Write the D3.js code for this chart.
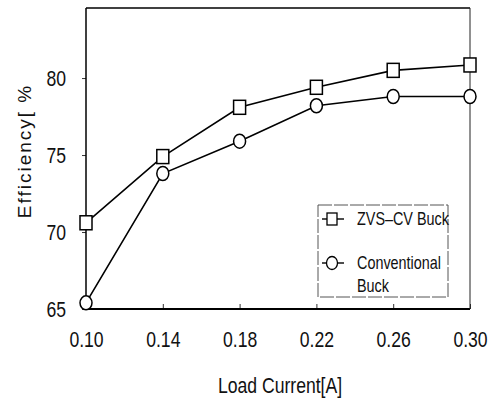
<!DOCTYPE html>
<html lang="en">
<head>
    <meta charset="UTF-8">
    <title>Efficiency vs Load Current</title>
    <script src="https://d3js.org/d3.v7.min.js"></script>
    <style>
        body { margin: 0; background: #fff; }
        text { font-family: "Liberation Sans", Arial, sans-serif; fill: #111; }
    </style>
</head>
<body>
    <div id="chart"></div>

    <script>
        // data
        const loadCurrent = [0.10, 0.14, 0.18, 0.22, 0.26, 0.30];
        const zvsBuck = [70.6, 74.9, 78.1, 79.4, 80.5, 80.85];
        const convBuck = [65.4, 73.8, 75.9, 78.2, 78.8, 78.8];
        const xTicks = [0.10, 0.14, 0.18, 0.22, 0.26, 0.30];
        const yTicks = [65, 70, 75, 80];

        const W = 495, H = 402;
        const margin = { top: 8, right: 25, bottom: 93, left: 86 };
        const width = W - margin.left - margin.right;
        const height = H - margin.top - margin.bottom;
        const narrow = 0.8; // fake a condensed face

        const svg = d3.select("#chart")
            .append("svg")
            .attr("width", W)
            .attr("height", H);

        const g = svg.append("g")
            .attr("transform", `translate(${margin.left},${margin.top})`);

        const x = d3.scaleLinear().domain([0.10, 0.30]).range([0, width]);
        const y = d3.scaleLinear().domain([65, 84.55]).range([height, 0]);

        // axes
        const xAxis = g.append("g")
            .attr("transform", `translate(0,${height})`)
            .call(d3.axisBottom(x).tickValues(xTicks).tickFormat(d3.format(".2f")).tickSizeInner(-5).tickSizeOuter(0).tickPadding(22));
        xAxis.select(".domain").remove();
        xAxis.selectAll("text").attr("font-size", 22).attr("transform", `scale(${narrow},1)`);
        xAxis.selectAll("line").attr("stroke", "#333");

        const yAxis = g.append("g")
            .call(d3.axisLeft(y).tickValues(yTicks).tickSizeInner(4).tickSizeOuter(0).tickPadding(16));
        yAxis.select(".domain").remove();
        yAxis.selectAll("text")
            .attr("font-size", 22)
            .attr("dy", "0.35em")
            .attr("x", -20 / narrow)
            .attr("transform", `scale(${narrow},1)`);
        yAxis.selectAll("line").attr("stroke", "#333");

        // frame
        g.append("line").attr("x1", 0).attr("x2", width).attr("y1", height).attr("y2", height)
            .attr("stroke", "#000").attr("stroke-width", 2);
        g.append("line").attr("x1", 0).attr("x2", 0).attr("y1", 0).attr("y2", height)
            .attr("stroke", "#000").attr("stroke-width", 1.5);
        g.append("line").attr("x1", 0).attr("x2", width).attr("y1", 0).attr("y2", 0)
            .attr("stroke", "#000").attr("stroke-width", 1.5);
        g.append("line").attr("x1", width).attr("x2", width).attr("y1", 0).attr("y2", height)
            .attr("stroke", "#222").attr("stroke-width", 1);

        // series
        const line = d3.line()
            .x((d, i) => x(loadCurrent[i]))
            .y(d => y(d));

        [zvsBuck, convBuck].forEach(s => {
            g.append("path")
                .datum(s)
                .attr("fill", "none")
                .attr("stroke", "#000")
                .attr("stroke-width", 1.6)
                .attr("d", line);
        });

        g.selectAll("rect.zvs")
            .data(zvsBuck)
            .enter()
            .append("rect")
            .attr("class", "zvs")
            .attr("x", (d, i) => x(loadCurrent[i]) - 6)
            .attr("y", d => y(d) - 7)
            .attr("width", 12)
            .attr("height", 14)
            .attr("fill", "#fff")
            .attr("stroke", "#000")
            .attr("stroke-width", 1.5);

        g.selectAll("ellipse.conv")
            .data(convBuck)
            .enter()
            .append("ellipse")
            .attr("class", "conv")
            .attr("cx", (d, i) => x(loadCurrent[i]))
            .attr("cy", d => y(d))
            .attr("rx", 6)
            .attr("ry", 7)
            .attr("fill", "#fff")
            .attr("stroke", "#000")
            .attr("stroke-width", 1.5);

        // legend
        const legend = svg.append("g");
        legend.append("rect")
            .attr("x", 318).attr("y", 205)
            .attr("width", 130).attr("height", 92)
            .attr("fill", "#fff")
            .attr("stroke", "#555")
            .attr("stroke-width", 1)
            .attr("stroke-dasharray", "14,2");

        const legendText = (tx, ty, s) => legend.append("text")
            .attr("transform", `translate(${tx},${ty}) scale(${narrow},1)`)
            .attr("font-size", 18)
            .text(s);

        legend.append("line").attr("x1", 322).attr("x2", 344).attr("y1", 219).attr("y2", 219)
            .attr("stroke", "#000").attr("stroke-width", 1.4);
        legend.append("rect").attr("x", 327).attr("y", 213).attr("width", 10).attr("height", 12)
            .attr("fill", "#fff").attr("stroke", "#000").attr("stroke-width", 1.3);
        legendText(357, 225, "ZVS\u2013CV Buck");

        legend.append("line").attr("x1", 322).attr("x2", 344).attr("y1", 263).attr("y2", 263)
            .attr("stroke", "#000").attr("stroke-width", 1.4);
        legend.append("ellipse").attr("cx", 332).attr("cy", 263).attr("rx", 5.5).attr("ry", 6.5)
            .attr("fill", "#fff").attr("stroke", "#000").attr("stroke-width", 1.3);
        legendText(357, 269, "Conventional");
        legendText(357, 292, "Buck");

        // axis titles
        svg.append("text")
            .attr("transform", `translate(280,393) scale(${narrow},1)`)
            .attr("text-anchor", "middle")
            .attr("font-size", 22)
            .text("Load Current[A]");

        svg.append("text")
            .attr("transform", "translate(31,151) rotate(-90)")
            .attr("text-anchor", "middle")
            .attr("font-size", 19)
            .attr("letter-spacing", 2)
            .text("Efficiency[ %");
    </script>
</body>
</html>
